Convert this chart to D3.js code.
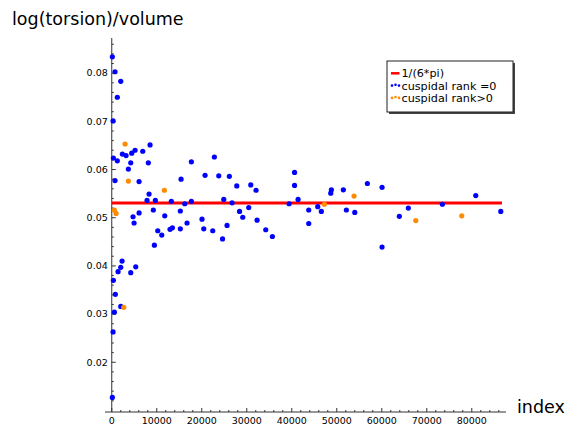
<!DOCTYPE html>
<html>
<head>
<meta charset="utf-8">
<script src="https://cdn.jsdelivr.net/npm/d3@7"></script>
<style>
  body { margin: 0; background: #fff; }
  svg { display: block; font-family: "DejaVu Sans", sans-serif; }
</style>
</head>
<body>
<div id="chart"></div>
<script>
// torsion / volume scatter, sage style axes

// cuspidal rank = 0
var blueIndex = [130, 730, 2000, 1240, 290, 8510, 2360, 3180, 4440, 5180, 6890, 360, 1240, 4220, 8130,
  3690, 730, 6070, 17690, 22800, 20730, 23780, 26130, 15400, 27780, 30890, 32060, 8290, 7840, 9690,
  13240, 17690, 16220, 24890, 26730, 28400, 30440, 29110, 6070, 9240, 15240, 4730, 11780, 20060, 32290,
  4960, 9470, 10220, 11110, 12950, 13470, 15240, 16730, 20440, 22440, 24620, 25620, 34220, 35690, 40620,
  40620, 41400, 39400, 43770, 43770, 45770, 46570, 48660, 48800, 51460, 52130, 54000, 56800, 60060, 60060,
  63900, 65900, 73460, 80880, 86440, 2290, 2000, 1400, 5330, 4220, 360, 800, 2000, 580, 290, 130];
var blueRatio = [0.0834, 0.0803, 0.0783, 0.0750, 0.0701, 0.0651, 0.0632, 0.0629, 0.0634, 0.0640, 0.0638, 0.0624, 0.0618, 0.0614, 0.0614,
  0.0601, 0.0577, 0.0575, 0.0616, 0.0626, 0.0588, 0.0587, 0.0586, 0.0580, 0.0566, 0.0568, 0.0557, 0.0549, 0.0536, 0.0536,
  0.0534, 0.0534, 0.0529, 0.0538, 0.0531, 0.0513, 0.0521, 0.0501, 0.0510, 0.0516, 0.0514, 0.0502, 0.0504, 0.0497, 0.0495,
  0.0489, 0.0443, 0.0473, 0.0464, 0.0476, 0.0479, 0.0477, 0.0489, 0.0477, 0.0473, 0.0456, 0.0484, 0.0475, 0.0461, 0.0594,
  0.0567, 0.0538, 0.0529, 0.0516, 0.0488, 0.0523, 0.0513, 0.0551, 0.0558, 0.0558, 0.0516, 0.0511, 0.0571, 0.0563, 0.0439,
  0.0503, 0.0520, 0.0528, 0.0546, 0.0513, 0.0410, 0.0397, 0.0388, 0.0398, 0.0386, 0.0370, 0.0341, 0.0316, 0.0304, 0.0263, 0.0127];

// cuspidal rank > 0
var orangeIndex = [2960, 3690, 11690, 580, 960, 2670, 47240, 53840, 67550, 77770];
var orangeRatio = [0.0653, 0.0576, 0.0557, 0.0516, 0.0509, 0.0314, 0.0528, 0.0545, 0.0494, 0.0504];

// reference line 1/(6*pi)
var lineIndex = [0, 86700];

var xTicks = [0, 10000, 20000, 30000, 40000, 50000, 60000, 70000, 80000];
var yTicks = [0.02, 0.03, 0.04, 0.05, 0.06, 0.07, 0.08];
var legendLabels = ["1/(6*pi)", "cuspidal rank =0", "cuspidal rank>0"];

var width = 573, height = 425,
    axisColor = "#333";

var svg = d3.select("#chart").append("svg")
  .attr("width", width)
  .attr("height", height);

var x = d3.scaleLinear().domain([-1500, 87600]).range([105, 506]);
var y = d3.scaleLinear().domain([0.00968, 0.0873]).range([412, 38]);

var xAxisY = y(0.00968), yAxisX = x(0);

// minor ticks
var xMinor = d3.range(0, 86001, 2000).filter(function(d) { return d % 10000 !== 0; });
var yMinor = d3.range(10, 87, 2).map(function(d) { return d / 1000; })
  .filter(function(d) { return Math.abs(d * 100 - Math.round(d * 100)) > 1e-6; });

var axes = svg.append("g").attr("stroke", axisColor);

axes.append("line")
  .attr("x1", x.range()[0]).attr("x2", x.range()[1])
  .attr("y1", xAxisY).attr("y2", xAxisY)
  .attr("stroke-width", 1);
axes.append("line")
  .attr("x1", yAxisX).attr("x2", yAxisX)
  .attr("y1", y.range()[0]).attr("y2", y.range()[1])
  .attr("stroke-width", 1);

axes.selectAll(".xmaj").data(xTicks).enter().append("line")
  .attr("x1", function(d) { return x(d); }).attr("x2", function(d) { return x(d); })
  .attr("y1", xAxisY).attr("y2", xAxisY - 4);
axes.selectAll(".xmin").data(xMinor).enter().append("line")
  .attr("x1", function(d) { return x(d); }).attr("x2", function(d) { return x(d); })
  .attr("y1", xAxisY).attr("y2", xAxisY - 2);
axes.selectAll(".ymaj").data(yTicks).enter().append("line")
  .attr("x1", yAxisX).attr("x2", yAxisX + 4)
  .attr("y1", function(d) { return y(d); }).attr("y2", function(d) { return y(d); });
axes.selectAll(".ymin").data(yMinor).enter().append("line")
  .attr("x1", yAxisX).attr("x2", yAxisX + 2)
  .attr("y1", function(d) { return y(d); }).attr("y2", function(d) { return y(d); });

// tick labels
svg.selectAll(".xlab").data(xTicks).enter().append("text")
  .attr("x", function(d) { return x(d); })
  .attr("y", xAxisY + 12)
  .attr("text-anchor", "middle")
  .style("font-size", "9.5px")
  .text(function(d) { return d; });
svg.selectAll(".ylab").data(yTicks).enter().append("text")
  .attr("x", yAxisX - 4)
  .attr("y", function(d) { return y(d); })
  .attr("dy", "0.35em")
  .attr("text-anchor", "end")
  .style("font-size", "9.5px")
  .text(function(d) { return d3.format(".2f")(d); });

// axis titles
svg.append("text").attr("x", 12).attr("y", 25)
  .style("font-size", "17.5px").text("log(torsion)/volume");
svg.append("text").attr("x", 517).attr("y", 413)
  .style("font-size", "17.5px").text("index");

// 1/(6*pi)
svg.append("line")
  .attr("x1", x(lineIndex[0])).attr("x2", x(lineIndex[1]))
  .attr("y1", y(1 / (6 * Math.PI))).attr("y2", y(1 / (6 * Math.PI)))
  .attr("stroke", "#ff0000")
  .attr("stroke-width", 3);

// points
svg.selectAll(".blue").data(d3.range(blueIndex.length)).enter().append("circle")
  .attr("cx", function(i) { return x(blueIndex[i]); })
  .attr("cy", function(i) { return y(blueRatio[i]); })
  .attr("r", 2.6)
  .style("fill", "#0000ff");
svg.selectAll(".orange").data(d3.range(orangeIndex.length)).enter().append("circle")
  .attr("cx", function(i) { return x(orangeIndex[i]); })
  .attr("cy", function(i) { return y(orangeRatio[i]); })
  .attr("r", 2.6)
  .style("fill", "#ff8c00");

// legend with drop shadow
var legend = svg.append("g").attr("transform", "translate(387,61)");
legend.append("rect").attr("x", 2).attr("y", 2).attr("width", 126).attr("height", 51)
  .style("fill", "#444");
legend.append("rect").attr("width", 126).attr("height", 51)
  .style("fill", "#fff").style("stroke", "#222").style("stroke-width", 1);

var rowY = [12.3, 24.6, 36.9];
var legendColors = ["#ff0000", "#0000ff", "#ff8c00"];
legend.append("line").attr("x1", 4).attr("x2", 12.5).attr("y1", rowY[0]).attr("y2", rowY[0])
  .style("stroke", legendColors[0]).style("stroke-width", 2.5);
[1, 2].forEach(function(k) {
  [5, 8.5, 12].forEach(function(dx, j) {
    legend.append("circle").attr("cx", dx).attr("cy", rowY[k] + (j === 1 ? -0.8 : 0)).attr("r", 1.3)
      .style("fill", legendColors[k]);
  });
});
legend.selectAll(".ltext").data(legendLabels).enter().append("text")
  .attr("x", 14.5)
  .attr("y", function(d, i) { return rowY[i] + 4; })
  .style("font-size", "11.2px")
  .text(function(d) { return d; });
</script>
</body>
</html>
